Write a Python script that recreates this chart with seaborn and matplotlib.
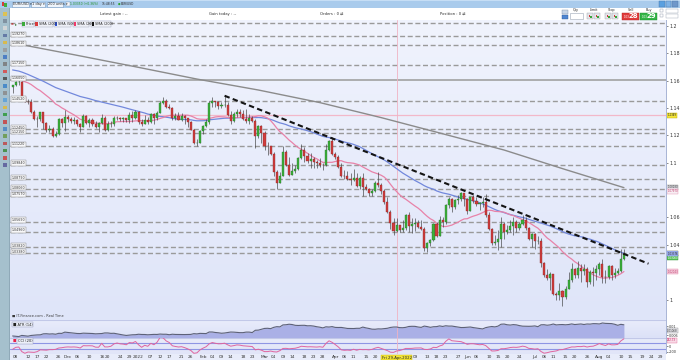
import numpy as np
import pandas as pd
import matplotlib
matplotlib.use("Agg")
import matplotlib.pyplot as plt
import seaborn as sns
from matplotlib.patches import Rectangle
from matplotlib.colors import LinearSegmentedColormap

sns.set_theme(style="white")
plt.rcParams["font.family"] = ["DejaVu Sans"]

W, H = 680, 360

# ---------------- data ----------------
first_date = "2021-11-05"
# closes before the first candle (only used to warm up the moving averages)
hist_closes = [1.1795, 1.1798, 1.1807, 1.1838, 1.1874, 1.1880, 1.1870, 1.1840, 1.1818, 1.1825,
               1.1813, 1.1806, 1.1803, 1.1818, 1.1765, 1.1725, 1.1727, 1.1725, 1.1690, 1.1740,
               1.1720, 1.1695, 1.1682, 1.1595, 1.1580, 1.1595, 1.1620, 1.1597, 1.1553, 1.1555,
               1.1570, 1.1552, 1.1530, 1.1595, 1.1596, 1.1600, 1.1608, 1.1640, 1.1655, 1.1624,
               1.1643, 1.1607, 1.1598, 1.1604, 1.1683, 1.1558, 1.1608, 1.1580, 1.1610, 1.1555]

opens = [1.1555, 1.1567, 1.1588, 1.1594, 1.1480, 1.1446, 1.1444, 1.1368, 1.1320, 1.1319,
         1.1369, 1.1290, 1.1236, 1.1250, 1.1199, 1.1209, 1.1318, 1.1290, 1.1338, 1.1320,
         1.1302, 1.1316, 1.1285, 1.1265, 1.1344, 1.1290, 1.1316, 1.1283, 1.1258, 1.1289,
         1.1330, 1.1238, 1.1282, 1.1285, 1.1330, 1.1327, 1.1320, 1.1328, 1.1310, 1.1350,
         1.1325, 1.1370, 1.1300, 1.1286, 1.1313, 1.1296, 1.1360, 1.1325, 1.1367, 1.1440,
         1.1455, 1.1411, 1.1403, 1.1326, 1.1344, 1.1311, 1.1345, 1.1325, 1.1301, 1.1242,
         1.1143, 1.1145, 1.1235, 1.1270, 1.1301, 1.1440, 1.1450, 1.1441, 1.1415, 1.1424,
         1.1425, 1.1349, 1.1306, 1.1358, 1.1374, 1.1360, 1.1322, 1.1307, 1.1327, 1.1308,
         1.1197, 1.1270, 1.1220, 1.1125, 1.1120, 1.1065, 1.0930, 1.0855, 1.0900, 1.1075,
         1.0985, 1.0913, 1.0943, 1.0955, 1.1035, 1.1095, 1.1050, 1.1015, 1.1030, 1.1005,
         1.0995, 1.0985, 1.0982, 1.1090, 1.1160, 1.1065, 1.1045, 1.0970, 1.0905, 1.0900,
         1.0880, 1.0876, 1.0886, 1.0830, 1.0890, 1.0825, 1.0810, 1.0780, 1.0790, 1.0852,
         1.0835, 1.0797, 1.0715, 1.0640, 1.0560, 1.0500, 1.0545, 1.0505, 1.0523, 1.0620,
         1.0540, 1.0550, 1.0560, 1.0530, 1.0515, 1.0380, 1.0410, 1.0436, 1.0550, 1.0465,
         1.0585, 1.0565, 1.0690, 1.0735, 1.0680, 1.0727, 1.0733, 1.0780, 1.0735, 1.0650,
         1.0750, 1.0720, 1.0695, 1.0705, 1.0715, 1.0615, 1.0515, 1.0410, 1.0420, 1.0445,
         1.0550, 1.0495, 1.0510, 1.0535, 1.0565, 1.0520, 1.0555, 1.0585, 1.0520, 1.0440,
         1.0480, 1.0425, 1.0428, 1.0265, 1.0180, 1.0160, 1.0185, 1.0040, 1.0035, 1.0060,
         1.0020, 1.0080, 1.0140, 1.0225, 1.0180, 1.0230, 1.0210, 1.0225, 1.0130, 1.0200,
         1.0195, 1.0220, 1.0260, 1.0165, 1.0163, 1.0245, 1.0180, 1.0195, 1.0210, 1.0298]

highs = [1.1570, 1.1598, 1.1609, 1.1601, 1.1482, 1.1464, 1.1465, 1.1386, 1.1343, 1.1374,
         1.1374, 1.1300, 1.1274, 1.1264, 1.1230, 1.1326, 1.1324, 1.1383, 1.1352, 1.1335,
         1.1333, 1.1322, 1.1290, 1.1355, 1.1350, 1.1326, 1.1330, 1.1303, 1.1295, 1.1360,
         1.1340, 1.1302, 1.1305, 1.1345, 1.1342, 1.1335, 1.1331, 1.1330, 1.1369, 1.1380,
         1.1386, 1.1376, 1.1322, 1.1347, 1.1331, 1.1364, 1.1363, 1.1375, 1.1452, 1.1482,
         1.1463, 1.1429, 1.1409, 1.1362, 1.1370, 1.1363, 1.1349, 1.1330, 1.1306, 1.1247,
         1.1172, 1.1240, 1.1275, 1.1321, 1.1450, 1.1483, 1.1453, 1.1448, 1.1447, 1.1495,
         1.1443, 1.1380, 1.1368, 1.1395, 1.1394, 1.1384, 1.1395, 1.1360, 1.1345, 1.1322,
         1.1274, 1.1278, 1.1232, 1.1155, 1.1124, 1.1075, 1.0945, 1.0935, 1.1121, 1.1095,
         1.1043, 1.0998, 1.0987, 1.1044, 1.1137, 1.1114, 1.1069, 1.1070, 1.1044, 1.1020,
         1.1036, 1.0995, 1.1137, 1.1170, 1.1185, 1.1077, 1.1054, 1.0998, 1.0944, 1.0937,
         1.0922, 1.0957, 1.0925, 1.0900, 1.0925, 1.0846, 1.0815, 1.0806, 1.0866, 1.0936,
         1.0853, 1.0805, 1.0748, 1.0658, 1.0593, 1.0594, 1.0548, 1.0580, 1.0624, 1.0641,
         1.0595, 1.0595, 1.0580, 1.0578, 1.0532, 1.0419, 1.0443, 1.0562, 1.0565, 1.0607,
         1.0600, 1.0697, 1.0749, 1.0745, 1.0737, 1.0765, 1.0787, 1.0780, 1.0740, 1.0753,
         1.0765, 1.0752, 1.0710, 1.0749, 1.0774, 1.0640, 1.0525, 1.0473, 1.0505, 1.0601,
         1.0565, 1.0545, 1.0583, 1.0605, 1.0580, 1.0570, 1.0615, 1.0606, 1.0528, 1.0488,
         1.0485, 1.0463, 1.0450, 1.0275, 1.0220, 1.0200, 1.0190, 1.0052, 1.0122, 1.0066,
         1.0096, 1.0200, 1.0270, 1.0233, 1.0278, 1.0258, 1.0258, 1.0235, 1.0215, 1.0235,
         1.0254, 1.0275, 1.0294, 1.0214, 1.0254, 1.0250, 1.0230, 1.0230, 1.0368, 1.0368]

lows = [1.1513, 1.1560, 1.1572, 1.1475, 1.1443, 1.1432, 1.1365, 1.1310, 1.1264, 1.1308,
        1.1250, 1.1226, 1.1226, 1.1186, 1.1188, 1.1205, 1.1260, 1.1235, 1.1300, 1.1290,
        1.1280, 1.1270, 1.1227, 1.1262, 1.1286, 1.1264, 1.1270, 1.1255, 1.1222, 1.1281,
        1.1235, 1.1233, 1.1260, 1.1270, 1.1310, 1.1306, 1.1300, 1.1297, 1.1288, 1.1300,
        1.1318, 1.1285, 1.1272, 1.1285, 1.1285, 1.1292, 1.1285, 1.1315, 1.1364, 1.1428,
        1.1398, 1.1394, 1.1316, 1.1311, 1.1309, 1.1302, 1.1287, 1.1264, 1.1236, 1.1135,
        1.1121, 1.1141, 1.1209, 1.1262, 1.1283, 1.1409, 1.1408, 1.1395, 1.1404, 1.1411,
        1.1340, 1.1280, 1.1300, 1.1338, 1.1335, 1.1312, 1.1290, 1.1285, 1.1300, 1.1106,
        1.1183, 1.1144, 1.1090, 1.1055, 1.1055, 1.0905, 1.0806, 1.0850, 1.0900, 1.0978,
        1.0904, 1.0908, 1.0928, 1.0949, 1.1024, 1.1008, 1.0995, 1.0963, 1.0963, 1.0960,
        1.0966, 1.0944, 1.0975, 1.1087, 1.1060, 1.1028, 1.0965, 1.0899, 1.0880, 1.0877,
        1.0837, 1.0867, 1.0820, 1.0808, 1.0757, 1.0800, 1.0758, 1.0760, 1.0784, 1.0825,
        1.0770, 1.0697, 1.0635, 1.0515, 1.0472, 1.0495, 1.0490, 1.0492, 1.0505, 1.0493,
        1.0484, 1.0499, 1.0520, 1.0505, 1.0355, 1.0350, 1.0390, 1.0429, 1.0460, 1.0463,
        1.0532, 1.0555, 1.0667, 1.0642, 1.0664, 1.0700, 1.0720, 1.0682, 1.0627, 1.0645,
        1.0705, 1.0687, 1.0653, 1.0678, 1.0605, 1.0505, 1.0398, 1.0398, 1.0359, 1.0381,
        1.0444, 1.0480, 1.0495, 1.0470, 1.0490, 1.0510, 1.0545, 1.0510, 1.0432, 1.0382,
        1.0366, 1.0408, 1.0235, 1.0162, 1.0145, 1.0072, 1.0030, 0.9999, 0.9998, 0.9952,
        1.0005, 1.0075, 1.0125, 1.0160, 1.0154, 1.0130, 1.0180, 1.0095, 1.0112, 1.0096,
        1.0145, 1.0180, 1.0123, 1.0123, 1.0150, 1.0142, 1.0160, 1.0185, 1.0202, 1.0290]

closes = [1.1567, 1.1588, 1.1594, 1.1480, 1.1446, 1.1444, 1.1368, 1.1320, 1.1319, 1.1369,
          1.1290, 1.1236, 1.1250, 1.1199, 1.1209, 1.1318, 1.1290, 1.1338, 1.1320, 1.1302,
          1.1316, 1.1285, 1.1265, 1.1344, 1.1290, 1.1316, 1.1283, 1.1258, 1.1289, 1.1330,
          1.1238, 1.1282, 1.1285, 1.1330, 1.1327, 1.1320, 1.1328, 1.1310, 1.1350, 1.1325,
          1.1370, 1.1300, 1.1286, 1.1313, 1.1296, 1.1360, 1.1325, 1.1367, 1.1440, 1.1455,
          1.1411, 1.1403, 1.1326, 1.1344, 1.1311, 1.1345, 1.1325, 1.1301, 1.1242, 1.1143,
          1.1145, 1.1235, 1.1270, 1.1301, 1.1440, 1.1450, 1.1441, 1.1415, 1.1424, 1.1425,
          1.1349, 1.1306, 1.1358, 1.1374, 1.1360, 1.1322, 1.1307, 1.1327, 1.1308, 1.1197,
          1.1270, 1.1220, 1.1125, 1.1120, 1.1065, 1.0930, 1.0855, 1.0900, 1.1075, 1.0985,
          1.0913, 1.0943, 1.0955, 1.1035, 1.1095, 1.1050, 1.1015, 1.1030, 1.1005, 1.0995,
          1.0985, 1.0982, 1.1090, 1.1160, 1.1065, 1.1045, 1.0970, 1.0905, 1.0900, 1.0880,
          1.0876, 1.0886, 1.0830, 1.0890, 1.0825, 1.0810, 1.0780, 1.0790, 1.0852, 1.0835,
          1.0797, 1.0715, 1.0640, 1.0560, 1.0500, 1.0545, 1.0505, 1.0523, 1.0620, 1.0540,
          1.0550, 1.0560, 1.0530, 1.0515, 1.0380, 1.0410, 1.0436, 1.0550, 1.0465, 1.0585,
          1.0565, 1.0690, 1.0735, 1.0680, 1.0727, 1.0733, 1.0780, 1.0735, 1.0650, 1.0750,
          1.0720, 1.0695, 1.0705, 1.0715, 1.0615, 1.0515, 1.0410, 1.0420, 1.0445, 1.0550,
          1.0495, 1.0510, 1.0535, 1.0565, 1.0520, 1.0555, 1.0585, 1.0520, 1.0440, 1.0480,
          1.0425, 1.0428, 1.0265, 1.0180, 1.0160, 1.0185, 1.0040, 1.0035, 1.0060, 1.0020,
          1.0080, 1.0140, 1.0225, 1.0180, 1.0230, 1.0210, 1.0225, 1.0130, 1.0200, 1.0195,
          1.0220, 1.0260, 1.0165, 1.0163, 1.0245, 1.0180, 1.0195, 1.0210, 1.0298, 1.0335]

# SMA(200) at these candle numbers
sma200_candle = [0, 20, 40, 60, 80, 100, 120, 140, 160, 180, 199]
sma200_value = [1.1876, 1.1790, 1.1702, 1.1612, 1.1532, 1.1440, 1.1330, 1.1212, 1.1093, 1.0950, 1.0818]
red_sma200_last = 1.0797
buy_marker = 1.0306

level_values = [1.2020, 1.1927, 1.1861, 1.1715, 1.1452, 1.1245, 1.1215, 1.1122, 1.0984,
                1.0879, 1.0806, 1.0757, 1.0569, 1.0496, 1.0382, 1.0338]
solid_level = 1.1605
pink_level = 1.1349
trend_dates = ["2022-02-10", "2022-08-23"]
trend_values = [1.1490, 1.0262]
price_ticks = [1.0, 1.02, 1.04, 1.06, 1.08, 1.1, 1.12, 1.14, 1.16, 1.18, 1.2]
# 1.02 and 1.08 are hidden behind the value boxes in the original
price_tick_labels = ["1", "", "1.04", "1.06", "", "1.1", "1.12", "1.14", "1.16", "1.18", "1.2"]

tick_dates = ["2021-11-08", "2021-11-12", "2021-11-17", "2021-11-22", "2021-11-26",
              "2021-12-01", "2021-12-06", "2021-12-10", "2021-12-16", "2021-12-20", "2021-12-24", "2021-12-29",
              "2022-01-03", "2022-01-07", "2022-01-12", "2022-01-17", "2022-01-21", "2022-01-26",
              "2022-02-01", "2022-02-04", "2022-02-09", "2022-02-14", "2022-02-18", "2022-02-23",
              "2022-03-01", "2022-03-04", "2022-03-09", "2022-03-14", "2022-03-18", "2022-03-23", "2022-03-28",
              "2022-04-01", "2022-04-06", "2022-04-11", "2022-04-15", "2022-04-20",
              "2022-05-09", "2022-05-13", "2022-05-18", "2022-05-23", "2022-05-27",
              "2022-06-01", "2022-06-06", "2022-06-10", "2022-06-15", "2022-06-20", "2022-06-24",
              "2022-07-01", "2022-07-06", "2022-07-11", "2022-07-15", "2022-07-20", "2022-07-26",
              "2022-08-01", "2022-08-04", "2022-08-10", "2022-08-15", "2022-08-19", "2022-08-24", "2022-08-29"]
tick_labels = ["08", "12", "17", "22", "26",
               "Dec", "06", "10", "16", "20", "24", "29",
               "2022", "07", "12", "17", "21", "26",
               "Feb", "04", "09", "14", "18", "23",
               "Mar", "04", "09", "14", "18", "23", "28",
               "Apr", "06", "11", "15", "20",
               "09", "13", "18", "23", "27",
               "Jun", "06", "10", "15", "20", "24",
               "Jul", "06", "11", "15", "20", "26",
               "Aug", "04", "10", "15", "19", "24", "29"]
cursor_date = "2022-04-29"
cursor_label = "Fri 29-Apr-2022"

assert len(opens) == len(highs) == len(lows) == len(closes) == 200

# ---------------- derived series ----------------
n = len(closes)
o = np.array(opens); h = np.array(highs); l = np.array(lows); c = np.array(closes)
idx = np.arange(n)
all_days = pd.bdate_range(first_date, periods=n + 20)
day_pos = {d: i for i, d in enumerate(all_days)}
def pos(d):
    return day_pos[pd.Timestamp(d)]

full_close = pd.Series(hist_closes + closes)
sma20 = full_close.rolling(20).mean().iloc[len(hist_closes):].to_numpy()
sma50 = full_close.rolling(50).mean().iloc[len(hist_closes):].to_numpy()

prev_c = np.array([hist_closes[-1]] + closes[:-1])
tr = np.maximum.reduce([h - l, np.abs(h - prev_c), np.abs(l - prev_c)])
atr = pd.Series(tr).ewm(alpha=1 / 14, adjust=False).mean().to_numpy()

tp = pd.Series(list(hist_closes) + list((h + l + c) / 3))
tp_sma = tp.rolling(20).mean()
tp_mad = tp.rolling(20).apply(lambda x: np.mean(np.abs(x - x.mean())), raw=True)
cci = ((tp - tp_sma) / (0.015 * tp_mad)).iloc[len(hist_closes):].to_numpy()

df = pd.DataFrame({"i": idx, "sma20": sma20, "sma50": sma50, "atr": atr, "cci": cci})

# ---------------- figure ----------------
fig = plt.figure(figsize=(W / 100, H / 100), dpi=100)
fig.patch.set_facecolor("white")

def R(x0, y0, x1, y1, **kw):
    p = Rectangle((x0 / W, 1 - y1 / H), (x1 - x0) / W, (y1 - y0) / H,
                  transform=fig.transFigure, **kw)
    fig.patches.append(p)
    return p

def T(x, y, s, **kw):
    kw.setdefault("fontsize", 2.8)
    kw.setdefault("va", "center")
    kw.setdefault("color", "#2a2a2a")
    return fig.text(x / W, 1 - y / H, s, **kw)

def axes_px(x0, y0, x1, y1):
    return fig.add_axes([x0 / W, 1 - y1 / H, (x1 - x0) / W, (y1 - y0) / H])

def gradient(ax, bottom_col, top_col):
    cmap = LinearSegmentedColormap.from_list("bg", [bottom_col, top_col])
    ax.imshow(np.linspace(0, 1, 64).reshape(-1, 1), extent=[0, 1, 0, 1], origin="lower",
              transform=ax.transAxes, cmap=cmap, aspect="auto", zorder=0)

XL = (-0.85, 212.7)
PX0, PX1 = 10, 666

# ---------- main price panel ----------
ax = axes_px(PX0, 20, PX1, 320)
gradient(ax, "#dfe5f9", "#f0f3fd")

for v in level_values:
    ax.axhline(v, color="#9a9a9a", lw=1.0, ls=(0, (3.6, 1.9)), zorder=1)
ax.axhline(solid_level, color="#9a9a9a", lw=1.1, zorder=1)
ax.axhline(pink_level, color="#f2b8c9", lw=0.9, zorder=1)
ax.axvline(pos(cursor_date), color="#f0b3c3", lw=0.6, zorder=1)

sns.lineplot(x=sma200_candle, y=sma200_value, color="#8b8b8b", linewidth=1.0, ax=ax, zorder=2)
sns.lineplot(data=df, x="i", y="sma50", color="#7288dc", linewidth=0.9, ax=ax, zorder=2)
sns.lineplot(data=df, x="i", y="sma20", color="#e882a8", linewidth=0.9, ax=ax, zorder=2)

up = c >= o
ax.vlines(idx, l, h, color="#3c3c3c", lw=0.45, zorder=3)
ax.bar(idx[up], (c - o)[up], bottom=o[up], width=0.68, color="#3cb03c",
       edgecolor="#226f22", linewidth=0.25, zorder=4)
ax.bar(idx[~up], (o - c)[~up], bottom=c[~up], width=0.68, color="#d03e3e",
       edgecolor="#822020", linewidth=0.25, zorder=4)

ax.plot([pos(d) for d in trend_dates], trend_values, color="#141414", lw=1.5,
        ls=(0, (2.6, 1.6)), zorder=5)

ax.set_xlim(*XL)
ax.set_ylim(0.98501, 1.20439)
ax.set_xticks([])
ax.yaxis.tick_right()
ax.set_yticks(price_ticks)
ax.set_yticklabels(price_tick_labels)
ax.tick_params(axis="y", labelsize=3.4, length=1.3, width=0.4, pad=1.0, colors="#333333",
               right=True)
ax.set_xlabel(""); ax.set_ylabel("")
for s in ax.spines.values():
    s.set_visible(False)

# left level labels
for v in level_values[1:] + [solid_level]:
    ax.annotate(f"{v:.5f}", xy=(0, v), xycoords=("axes fraction", "data"),
                xytext=(1.2, 1.2), textcoords="offset points", fontsize=2.3, color="#333333",
                va="center", ha="left", zorder=6,
                bbox=dict(boxstyle="square,pad=0.25", fc="#f7f7f9", ec="#8c8c8c", lw=0.35))

# right value boxes
def rbox(axis, v, text, fc, ec, tc="#222222"):
    axis.annotate(text, xy=(1, v), xycoords=("axes fraction", "data"), xytext=(0.9, 0),
                  textcoords="offset points", fontsize=1.9, color=tc, va="center", ha="left",
                  annotation_clip=False, zorder=7,
                  bbox=dict(boxstyle="square,pad=0.18", fc=fc, ec=ec, lw=0.3))

rbox(ax, pink_level, f"{pink_level:.4f}", "#f3e43a", "#b9a800")
rbox(ax, sma200_value[-1] + 0.0004, f"{sma200_value[-1]:.5f}", "#e9e9ef", "#8a8a8a")
rbox(ax, red_sma200_last - 0.0004, f"{red_sma200_last:.5f}", "#f7eef3", "#e38fb0", "#c03a6a")
rbox(ax, closes[-1], f"{closes[-1]:.5f}", "#f3e43a", "#b9a800")
rbox(ax, buy_marker, f"{buy_marker:.5f}", "#59c35a", "#2f8f30", "#ffffff")
rbox(ax, sma50[-1] - 0.0004, f"{sma50[-1]:.5f}", "#9fb0ee", "#6b80d6")
rbox(ax, sma20[-1], f"{sma20[-1]:.5f}", "#f4cddd", "#e382a7", "#c03a6a")

ax.text(0.003, 0.008, "\u25a0 IT-Finance.com - Real Time", transform=ax.transAxes,
        fontsize=2.5, color="#3a3a3a", va="bottom", ha="left", zorder=6)

# ---------- ATR panel ----------
ax2 = axes_px(PX0, 320, PX1, 338)
gradient(ax2, "#dce1f7", "#e9ecfb")
ax2.fill_between(idx, atr, 0, color="#aab0e6", zorder=1, lw=0)
sns.lineplot(data=df, x="i", y="atr", color="#5d6178", linewidth=0.8, ax=ax2, zorder=2)
ax2.axvline(pos(cursor_date), color="#f0b3c3", lw=0.6, zorder=1)
ax2.set_xlim(*XL)
a_lo, a_hi = atr[:5].mean(), atr.max()
a_step = (a_hi - a_lo) / 13.0          # one pixel of the 18-px panel
y_lo, y_hi = a_lo - 2.0 * a_step, a_lo + 16.0 * a_step
ax2.set_ylim(y_lo, y_hi)
ax2.set_xticks([])
ax2.yaxis.tick_right()
t_step = 0.002 if 0.002 / a_step >= 6.5 else 0.004
atr_ticks = [t for t in np.arange(0.002, 0.03, t_step) if y_lo + 2 * a_step < t < y_hi - 1.5 * a_step]
ax2.set_yticks(atr_ticks)
ax2.set_yticklabels([f"{t:.3f}".rstrip("0").rstrip(".") for t in atr_ticks])
ax2.tick_params(axis="y", labelsize=2.4, length=1.2, width=0.4, pad=1.0, colors="#333333", right=True)
ax2.set_xlabel(""); ax2.set_ylabel("")
for s in ax2.spines.values():
    s.set_visible(False)
ax2.axhline(y_hi, color="#c2c8e8", lw=0.8)
atr_box_y = (atr_ticks[-1] + atr_ticks[-2]) / 2 if len(atr_ticks) > 1 else atr_ticks[-1] - t_step / 2
rbox(ax2, atr_box_y, f"{atr[-1]:.5f}", "#e8e8ee", "#8a8a8a")
ax2.text(0.004, 0.86, "\u25a0 ATR (14)", transform=ax2.transAxes, fontsize=2.6, va="top", ha="left",
         color="#222222", zorder=6,
         bbox=dict(boxstyle="square,pad=0.25", fc="#eceff9", ec="#9aa0c0", lw=0.35))

# ---------- CCI panel ----------
ax3 = axes_px(PX0, 338, PX1, 354)
gradient(ax3, "#e1e5f8", "#e8ebfa")
ax3.axhline(100, color="#8e95e4", lw=0.8, zorder=1)
ax3.axhline(-100, color="#8e95e4", lw=0.8, zorder=1)
ax3.axhline(281, color="#c2c8e8", lw=0.8, zorder=1)
sns.lineplot(data=df, x="i", y="cci", color="#e0649e", linewidth=0.7, ax=ax3, zorder=2)
ax3.axvline(pos(cursor_date), color="#f0b3c3", lw=0.6, zorder=1)
ax3.set_xlim(*XL)
ax3.set_ylim(-281, 281)
ax3.yaxis.tick_right()
ax3.set_yticks([-200, 0])
ax3.set_yticklabels(["-200", "0"])
ax3.tick_params(axis="y", labelsize=2.5, length=1.2, width=0.4, pad=1.0, colors="#333333", right=True)
ax3.set_xticks([pos(d) for d in tick_dates])
ax3.set_xticklabels(tick_labels)
ax3.tick_params(axis="x", labelsize=3.1, length=0, pad=1.0, colors="#333333")
ax3.set_xlabel(""); ax3.set_ylabel("")
for s in ax3.spines.values():
    s.set_visible(False)
rbox(ax3, 200, f"{cci[-1]:.2f}", "#f8dbe6", "#e06c9a", "#c02060")
ax3.text(0.004, 0.93, "\u25a0", transform=ax3.transAxes, fontsize=2.6, va="top", ha="left",
         color="#e8204a", zorder=6)
ax3.text(0.012, 0.93, "CCI (20)", transform=ax3.transAxes, fontsize=2.6, va="top", ha="left",
         color="#222222", zorder=6,
         bbox=dict(boxstyle="square,pad=0.2", fc="#eceff9", ec="#9aa0c0", lw=0.35))
ax3.annotate(cursor_label, xy=(pos(cursor_date), 0), xycoords=("data", "axes fraction"),
             xytext=(0, -2.6), textcoords="offset points", fontsize=2.8, ha="center", va="center",
             color="#222222", annotation_clip=False, zorder=8,
             bbox=dict(boxstyle="square,pad=0.2", fc="#f3e53a", ec="#c9b800", lw=0.3))

# ---------- window chrome ----------
R(PX0, 354, PX1, 360, fc="#e8ecfa", ec="none", zorder=-1)
R(PX1, 20, PX1 + 0.6, 354, fc="#aab6d6", ec="none")
# title bar
R(0, 0, W, 8, fc="#a9cbec", ec="none")
R(0, 0, W, 1.2, fc="#c6def5", ec="none")
R(1.5, 1.5, 4.2, 5.5, fc="#d83b3b", ec="none")
R(4.2, 2.5, 7, 6.5, fc="#3fae3f", ec="none")
for x0, x1, s in [(12, 29, "EUR/USD \u25be"), (31, 45, "1 day \u25be"), (46.5, 63, "200 units \u25be")]:
    R(x0, 1.5, x1, 6.8, fc="#eef4fb", ec="#7b9bc0", lw=0.4)
    T(x0 + 1, 4.2, s, fontsize=2.5)
R(66, 2, 69.5, 6.2, fc="#f7f7f7", ec="#7b9bc0", lw=0.3)
T(70.5, 4.2, "1.03350 (+0.36%)", fontsize=2.2, color="#1e8e1e")
T(102, 4.2, "15:48:55", fontsize=2.2)
T(118, 4.2, "\u25cf", fontsize=2.2, color="#2aa32a")
T(121, 4.2, "EUR/USD", fontsize=2.2)
for k, col in enumerate(["#5aa0e0", "#7fb3e6", "#6f97c9"]):
    R(659 + k * 6.5, 1.3, 664.5 + k * 6.5, 6.5, fc=col, ec="#4d79a8", lw=0.3)

# info strip
T(100, 14, "Latest gain : --", fontsize=2.7)
T(209, 14, "Gain today : --", fontsize=2.7)
T(320, 14, "Orders : 0 \u21c4", fontsize=2.7)
T(440, 14, "Position : 0 \u21c4", fontsize=2.7)

# trading widget
R(562, 9.5, 568, 14, fc="#c9d6e6", ec="#7b8fa8", lw=0.3)
R(562, 14.5, 568, 19, fc="#4f86d0", ec="#2f5f9f", lw=0.3)
T(576, 10, "Qty", fontsize=2.4, ha="center")
R(570, 13, 583, 19, fc="white", ec="#9aa5b5", lw=0.4)
T(593.5, 10, "Limit", fontsize=2.4, ha="center")
T(611.5, 10, "Stop", fontsize=2.4, ha="center")
for x0 in (587, 594, 605, 612):
    R(x0, 13, x0 + 6, 19, fc="#e4e6ea", ec="#9aa0aa", lw=0.3)
    R(x0 + 1.5, 14.5, x0 + 3.2, 16.5, fc="#d23a3a", ec="none")
    R(x0 + 3.2, 15.5, x0 + 4.8, 17.5, fc="#3aa43a", ec="none")
T(630.5, 10, "Sell", fontsize=2.4, ha="center")
T(648.5, 10, "Buy", fontsize=2.4, ha="center")
R(622, 12.5, 639, 19.8, fc="#e03b3b", ec="#b02020", lw=0.3)
R(640, 12.5, 657, 19.8, fc="#33b446", ec="#1f8a2f", lw=0.3)
T(626.3, 16.6, "1.03", fontsize=1.9, color="white", ha="center")
T(633.5, 16.2, "28", fontsize=5, color="white", ha="center", fontweight="bold")
T(644.3, 16.6, "1.03", fontsize=1.9, color="white", ha="center")
T(651.5, 16.2, "29", fontsize=5, color="white", ha="center", fontweight="bold")
for yy in (10.5, 15.5):
    R(660, yy - 1.5, 663, yy + 1.5, fc="white", ec="#8a95a8", lw=0.3)
    R(666, yy - 2, 678, yy + 2, fc="white", ec="#9aa5b5", lw=0.3)

# legend row
T(10.5, 24, "\u2716", fontsize=2.4, color="#c03030")
T(15, 24, "\u25b8", fontsize=2.8, color="#3a7a3a")
items = [(21.5, 34, "#3cab3c", "Price"), (34.5, 52.5, "#d83a3a", "SMA (200)"),
         (54, 70.5, "#2e54e0", "SMA (50)"), (73, 88.5, "#f03a6a", "SMA (20)"),
         (91, 110.5, "#111111", "SMA (200)")]
for x0, x1, col, s in items:
    R(x0, 21.3, x1, 26.7, fc="#eef0f7", ec="#a9adbd", lw=0.35, zorder=5)
    R(x0 + 0.8, 22.4, x0 + 3.4, 25.6, fc=col, ec="none", zorder=6)
    T(x0 + 4.2, 24.1, s, fontsize=2.5, zorder=6)

# left toolbar
R(0, 8, 9.3, H, fc="#a5c0cd", ec="none")
R(9.3, 8, 10, H, fc="#8fa9b8", ec="none")
icon_cols = ["#e7c340", "#7a8a9a", "#d9d9d9", "#5a6fa0", "#e0b93a", "#9a9a9a", "#3f74c2",
             "#7a7a7a", "#d94848", "#4a4a4a", "#3c82c8", "#8a8a8a", "#5aa0d8", "#e0b93a",
             "#2e9a3a", "#c94040", "#4a84c4", "#6a9a4a", "#c04848", "#3a8a3a", "#d04040", "#5a5a9a"]
for k, col in enumerate(icon_cols):
    yy = 12 + k * 7.2
    R(2.6, yy, 6.6, yy + 3.6, fc=col, ec="none", alpha=0.85)

fig.savefig("out.png", dpi=100)
